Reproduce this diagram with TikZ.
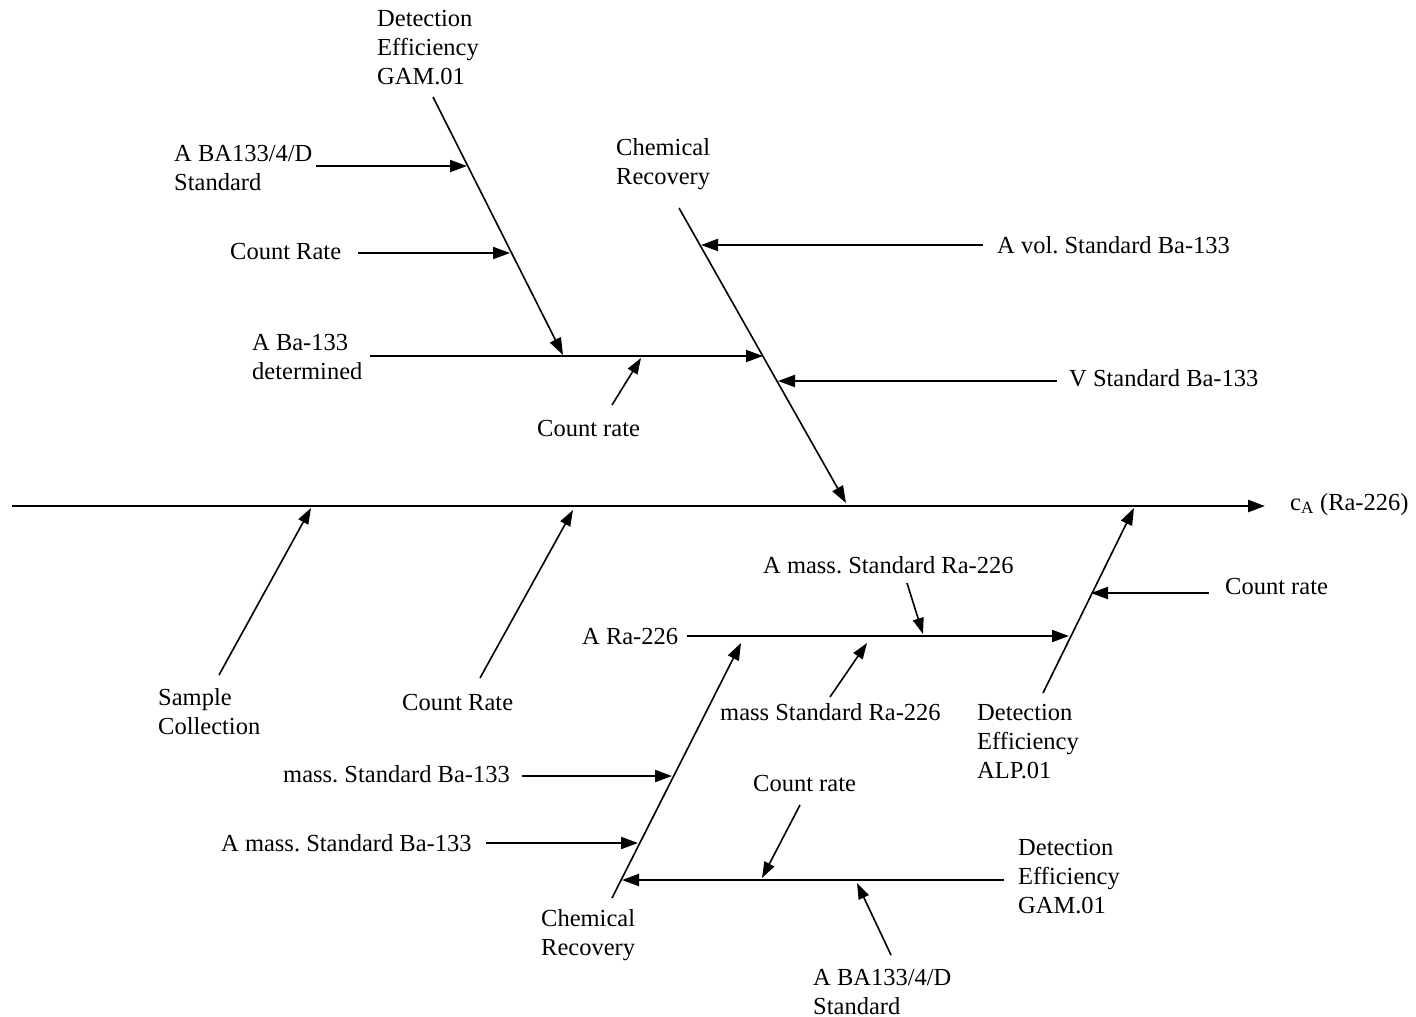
\documentclass[tikz,border=0pt]{standalone}
\usepackage{fontspec}
\setmainfont{Liberation Serif}
\usetikzlibrary{arrows.meta}
\frenchspacing
\begin{document}
\begin{tikzpicture}[x=1pt,y=-1pt,
  lbl/.style={inner sep=0pt,anchor=base west,align=left,font=\fontsize{24.5}{29}\selectfont\frenchspacing},
  spine/.style={line width=2.7pt,-{Triangle[length=17pt,width=12pt]}},
  bonearr/.style={line width=1.6pt,-{Triangle[length=17pt,width=12pt]}},
  feed/.style={line width=2.1pt,-{Triangle[length=17pt,width=12pt]}},
  small/.style={line width=1.6pt,-{Triangle[length=16pt,width=11pt]}}]
\useasboundingbox (0,0) rectangle (1416,1017);
% ---------- labels (anchor = baseline of last line) ----------
\node[lbl] (gamT) at (377,84) {Detection\\Efficiency\\GAM.01};
\node[lbl] (baT) at (174,190) {A BA133/4/D\\Standard};
\node[lbl] (crT) at (230,259) {Count Rate};
\node[lbl] (detT) at (252,379) {A Ba-133\\determined};
\node[lbl] (crM) at (537,436) {Count rate};
\node[lbl] (chemT) at (616,184) {Chemical\\Recovery};
\node[lbl] (avol) at (997,253) {A vol. Standard Ba-133};
\node[lbl] (vstd) at (1069,386) {V Standard Ba-133};
\node[lbl] (out) at (1290,510) {c\textsubscript{A} (Ra-226)};
\node[lbl] (samp) at (158,734) {Sample\\Collection};
\node[lbl] (crB) at (402,710) {Count Rate};
\node[lbl] (amra) at (763,573) {A mass. Standard Ra-226};
\node[lbl] (crR) at (1225,594) {Count rate};
\node[lbl] (ara) at (582,644) {A Ra-226};
\node[lbl] (mra) at (720,720) {mass Standard Ra-226};
\node[lbl] (alp) at (977,778) {Detection\\Efficiency\\ALP.01};
\node[lbl] (mba) at (283,782) {mass. Standard Ba-133};
\node[lbl] (crB2) at (753,791) {Count rate};
\node[lbl] (amba) at (221,851) {A mass. Standard Ba-133};
\node[lbl] (gamB) at (1018,913) {Detection\\Efficiency\\GAM.01};
\node[lbl] (chemB) at (541,955) {Chemical\\Recovery};
\node[lbl] (baB) at (813,1014) {A BA133/4/D\\Standard};
% ---------- coordinates ----------
\coordinate (s0) at (12,506);   \coordinate (s1) at (1265,506);
\coordinate (g0) at (433,97);   \coordinate (g1) at (563,355);
\coordinate (d0) at (370,356);  \coordinate (d1) at (763,356);
\coordinate (c0) at (679,208);  \coordinate (c1) at (846,503);
\coordinate (b0) at (316,166);  \coordinate (b1) at (467,166);
\coordinate (r0) at (358,253);  \coordinate (r1) at (510,253);
\coordinate (m0) at (612,405);  \coordinate (m1) at (641,358);
\coordinate (v0) at (983,245);  \coordinate (v1) at (701,245);
\coordinate (w0) at (1057,381); \coordinate (w1) at (778,381);
\coordinate (p0) at (219,675);  \coordinate (p1) at (311,508);
\coordinate (q0) at (480,678);  \coordinate (q1) at (573,510);
\coordinate (a0) at (1043,693); \coordinate (a1) at (1134,508);
\coordinate (k0) at (1209,593); \coordinate (k1) at (1091,593);
\coordinate (h0) at (687,636);  \coordinate (h1) at (1069,636);
\coordinate (n0) at (907,583);  \coordinate (n1) at (923,634);
\coordinate (t0) at (830,697);  \coordinate (t1) at (867,643);
\coordinate (e0) at (612,898);  \coordinate (e1) at (741,643);
\coordinate (f0) at (522,776);  \coordinate (f1) at (672,776);
\coordinate (i0) at (486,843);  \coordinate (i1) at (638,843);
\coordinate (j0) at (1004,880); \coordinate (j1) at (622,880);
\coordinate (u0) at (800,805);  \coordinate (u1) at (762,878);
\coordinate (z0) at (891,955);  \coordinate (z1) at (857,883);
% ---------- connectors ----------
\draw[spine] (s0) -- (s1);
\draw[bonearr] (g0) -- (g1);
\draw[feed] (d0) -- (d1);
\draw[bonearr] (c0) -- (c1);
\draw[feed] (b0) -- (b1);
\draw[feed] (r0) -- (r1);
\draw[small] (m0) -- (m1);
\draw[feed] (v0) -- (v1);
\draw[feed] (w0) -- (w1);
\draw[small] (p0) -- (p1);
\draw[small] (q0) -- (q1);
\draw[bonearr] (a0) -- (a1);
\draw[feed] (k0) -- (k1);
\draw[feed] (h0) -- (h1);
\draw[small] (n0) -- (n1);
\draw[small] (t0) -- (t1);
\draw[bonearr] (e0) -- (e1);
\draw[feed] (f0) -- (f1);
\draw[feed] (i0) -- (i1);
\draw[feed] (j0) -- (j1);
\draw[small] (u0) -- (u1);
\draw[small] (z0) -- (z1);
\end{tikzpicture}
\end{document}
